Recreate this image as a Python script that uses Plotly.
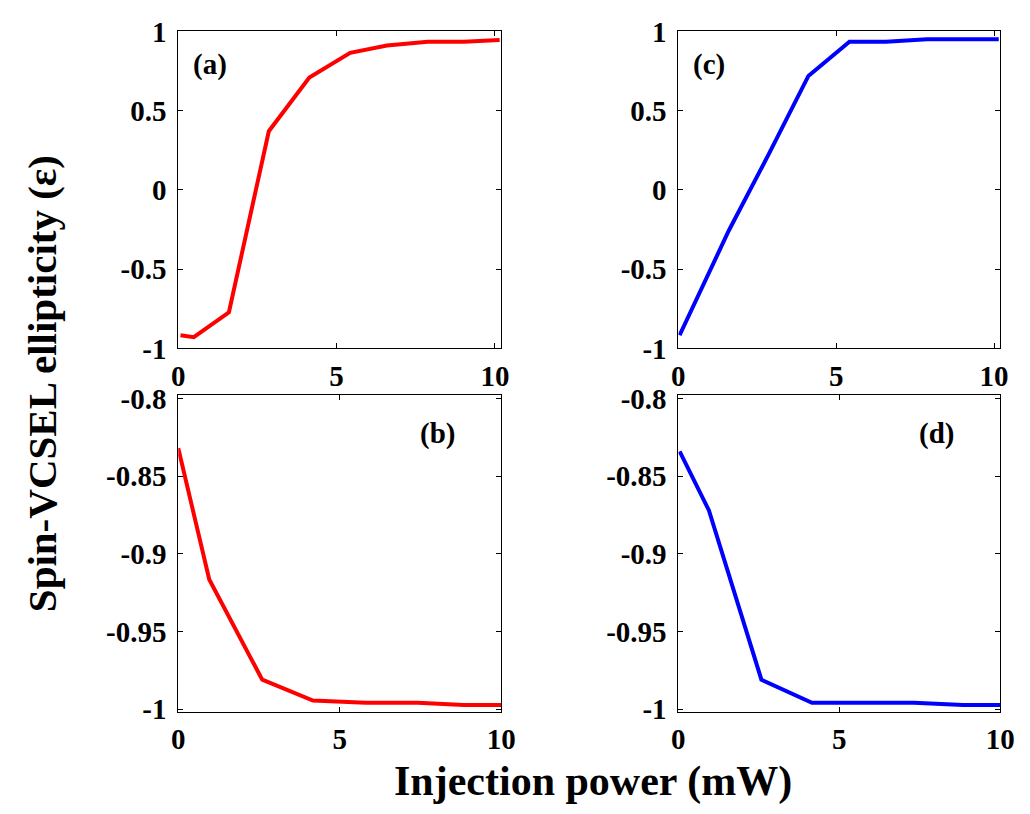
import plotly.graph_objects as go

W, H = 1030, 814

# Injection power (mW) and ellipticity for each panel
power_a = [0.07, 0.49, 1.60, 2.86, 4.14, 5.43, 6.59, 7.88, 9.02, 10.15]
ellip_a = [-0.917, -0.929, -0.772, 0.370, 0.709, 0.865, 0.911, 0.935, 0.935, 0.945]

power_c = [0.04, 1.60, 2.86, 4.12, 5.42, 6.58, 7.88, 10.15]
ellip_c = [-0.917, -0.256, 0.224, 0.719, 0.935, 0.935, 0.950, 0.950]

power_b = [0.0, 0.96, 2.60, 4.17, 5.81, 7.42, 8.84, 10.0]
ellip_b = [-0.832, -0.9165, -0.981, -0.9944, -0.9959, -0.9959, -0.9973, -0.9973]

power_d = [0.04, 0.95, 2.58, 4.15, 5.80, 7.32, 8.84, 10.0]
ellip_d = [-0.834, -0.872, -0.981, -0.9959, -0.9959, -0.9959, -0.9973, -0.9973]

panel_labels = ["(a)", "(b)", "(c)", "(d)"]
x_ticks = [0, 5, 10]
y_ticks_top = [-1, -0.5, 0, 0.5, 1]
y_ticks_top_text = ["-1", "-0.5", "0", "0.5", "1"]
y_ticks_bot = [-1, -0.95, -0.9, -0.85, -0.8]
y_ticks_bot_text = ["-1", "-0.95", "-0.9", "-0.85", "-0.8"]

RED = "#ff0000"
BLUE = "#0000ff"
FONT = "Liberation Serif"


def px_x(p):
    return p / W


def px_y(p):
    return 1 - p / H


# pixel boxes of the four panels: (left, right, top, bottom)
boxes = {
    "a": (175, 505, 16, 346),
    "c": (686, 1015, 16, 346),
    "b": (175, 505, 395, 724),
    "d": (686, 1015, 395, 724),
}

fig = go.Figure()

series = [
    ("a", power_a, ellip_a, RED, "x", "y"),
    ("c", power_c, ellip_c, BLUE, "x2", "y2"),
    ("b", power_b, ellip_b, RED, "x3", "y3"),
    ("d", power_d, ellip_d, BLUE, "x4", "y4"),
]
for key, xs, ys, col, xa, ya in series:
    fig.add_trace(go.Scatter(x=xs, y=ys, mode="lines", xaxis=xa, yaxis=ya,
                             line=dict(color=col, width=4), showlegend=False,
                             cliponaxis=True))

tickfont = dict(family=FONT, size=29, color="black", weight="bold")


def xaxis_cfg(key, rng, anchor):
    l, r, t, b = boxes[key]
    return dict(domain=[px_x(l), px_x(r)], range=rng, anchor=anchor,
                tickvals=x_ticks, ticktext=[str(v) for v in x_ticks],
                ticks="inside", ticklen=5, tickcolor="black",
                showline=True, linecolor="black", linewidth=1, mirror="ticks",
                showgrid=False, zeroline=False, tickfont=tickfont,
                ticklabelstandoff=2)


def yaxis_cfg(key, rng, anchor, vals, text):
    l, r, t, b = boxes[key]
    return dict(domain=[px_y(b), px_y(t)], range=rng, anchor=anchor,
                tickvals=vals, ticktext=text,
                ticks="inside", ticklen=5, tickcolor="black",
                showline=True, linecolor="black", linewidth=1, mirror="ticks",
                showgrid=False, zeroline=False, tickfont=tickfont,
                ticklabelstandoff=5)


fig.update_layout(
    width=W, height=H,
    margin=dict(l=0, r=0, t=0, b=0),
    paper_bgcolor="white", plot_bgcolor="white",
    xaxis=xaxis_cfg("a", [0, 10.2], "y"),
    yaxis=yaxis_cfg("a", [-1, 1], "x", y_ticks_top, y_ticks_top_text),
    xaxis2=xaxis_cfg("c", [0, 10.2], "y2"),
    yaxis2=yaxis_cfg("c", [-1, 1], "x2", y_ticks_top, y_ticks_top_text),
    xaxis3=xaxis_cfg("b", [0, 10], "y3"),
    yaxis3=yaxis_cfg("b", [-1.0015, -0.798], "x3", y_ticks_bot, y_ticks_bot_text),
    xaxis4=xaxis_cfg("d", [0, 10], "y4"),
    yaxis4=yaxis_cfg("d", [-1.0015, -0.798], "x4", y_ticks_bot, y_ticks_bot_text),
)

label_pos = {"(a)": (207.5, 50), "(c)": (717.5, 50), "(b)": (440, 435), "(d)": (950, 435)}
for lab in panel_labels:
    cx, cy = label_pos[lab]
    fig.add_annotation(text=lab, x=px_x(cx), y=px_y(cy), xref="paper", yref="paper",
                       showarrow=False, xanchor="center", yanchor="middle",
                       font=dict(family=FONT, size=29, color="black", weight="bold"))

fig.add_annotation(text="Injection power (mW)", x=px_x(599), y=px_y(797),
                   xref="paper", yref="paper", showarrow=False,
                   xanchor="center", yanchor="middle",
                   font=dict(family=FONT, size=42, color="black", weight="bold"))
fig.add_annotation(text="Spin-VCSEL ellipticity (ε)", x=px_x(36), y=px_y(383),
                   xref="paper", yref="paper", showarrow=False, textangle=-90,
                   xanchor="center", yanchor="middle",
                   font=dict(family=FONT, size=41, color="black", weight="bold"))

fig.write_html("out.html")
